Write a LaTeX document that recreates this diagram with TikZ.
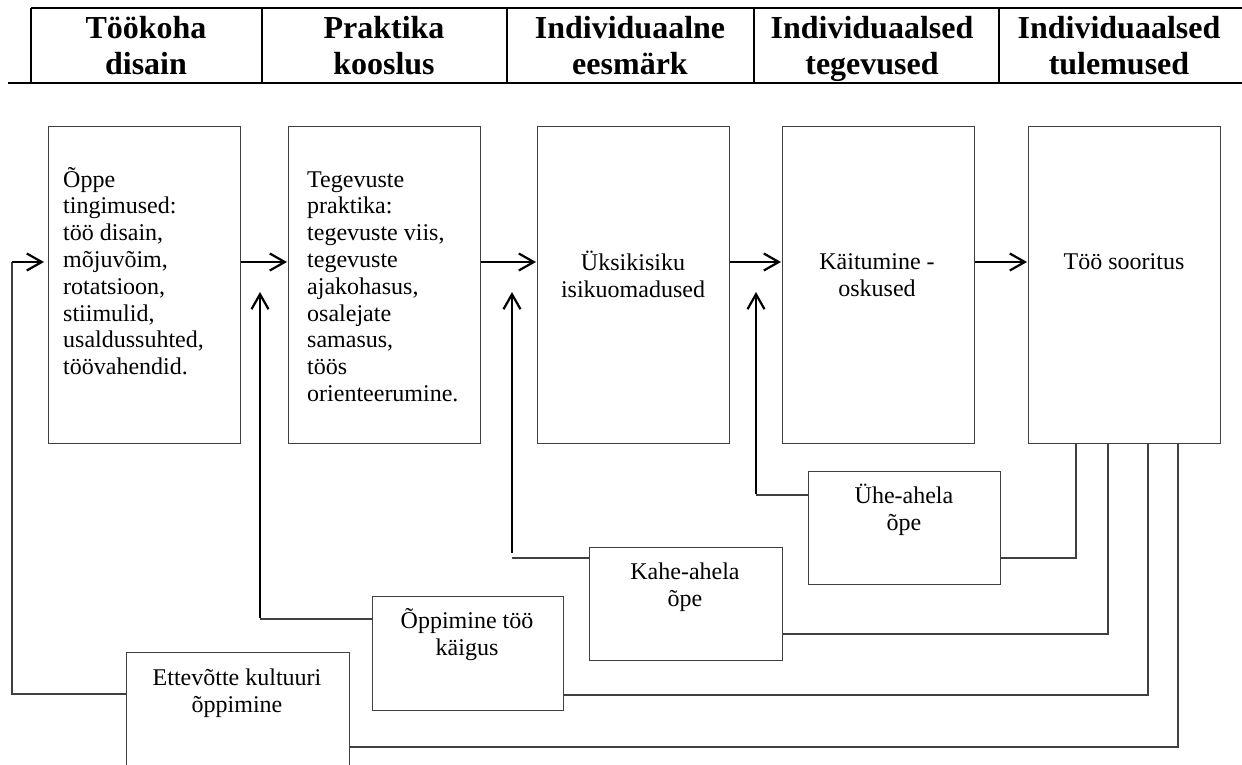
\documentclass[tikz,border=0pt]{standalone}
\usepackage{fontspec}
\setmainfont{Liberation Serif}
\usetikzlibrary{arrows.meta}
\begin{document}
\begin{tikzpicture}[x=1pt,y=-1pt,
  frame/.style={draw=black!75, line width=1.2pt},
  boxnode/.style={frame, anchor=north west, inner sep=0pt},
  bigbox/.style={boxnode, minimum width=192pt, minimum height=317pt},
  smallbox/.style={boxnode, minimum height=113pt},
  body/.style={font=\fontsize{24}{26.8}\selectfont, inner sep=0pt},
  head/.style={font=\bfseries\fontsize{32}{36}\selectfont, align=center, inner sep=0pt, anchor=base},
  flow/.style={line width=2.2pt, -{Straight Barb[length=15pt,width=17pt,line width=2.2pt]}},
  link/.style={draw=black!75, line width=1.2pt},
  rule/.style={draw=black, line width=2.2pt}]
\useasboundingbox (0,0) rectangle (1242,765);
\clip (0,0) rectangle (1242,765);

% header row
\coordinate (htl) at (31,8);
\coordinate (hbl) at (8,83);
\draw[rule] (htl) -- (1242,8);
\draw[rule] (hbl) -- (1242,83);
\draw[rule] (htl) -- (31,83);
\foreach \x in {262,507,754,999} \draw[rule] (\x,8) -- (\x,83);
\node[head] (h1) at (146,75) {Töökoha\\disain};
\node[head] (h2) at (384,75) {Praktika\\kooslus};
\node[head] (h3) at (630,75) {Individuaalne\\eesmärk};
\node[head] (h4) at (872,75) {Individuaalsed\\tegevused};
\node[head] (h5) at (1119,75) {Individuaalsed\\tulemused};

% main chain
\node[bigbox] (b1) at (48,126) {};
\node[bigbox] (b2) at (288,126) {};
\node[bigbox] (b3) at (537,126) {};
\node[bigbox] (b4) at (782,126) {};
\node[bigbox] (b5) at (1028,126) {};

\node[body, align=left, anchor=base west] (b1t) at (63,374.6)
  {Õppe\\tingimused:\\töö disain,\\mõjuvõim,\\rotatsioon,\\stiimulid,\\usaldussuhted,\\töövahendid.};
\node[body, align=left, anchor=base west] (b2t) at (307,401.4)
  {Tegevuste\\praktika:\\tegevuste viis,\\tegevuste\\ajakohasus,\\osalejate\\samasus,\\töös\\orienteerumine.};
\node[body, align=center, anchor=base] (b3t) at (633,297) {Üksikisiku\\isikuomadused};
\node[body, align=center, anchor=base] (b4t) at (877,296) {Käitumine -\\oskused};
\node[body, align=center, anchor=base] (b5t) at (1124,269) {Töö sooritus};

\coordinate (row) at (0,262);
\draw[flow] (b1.east |- row) -- ([xshift=-1pt]b2.west |- row);
\draw[flow] (b2.east |- row) -- ([xshift=-1pt]b3.west |- row);
\draw[flow] (b3.east |- row) -- ([xshift=-1pt]b4.west |- row);
\draw[flow] (b4.east |- row) -- ([xshift=-1pt]b5.west |- row);

% learning loops
\node[smallbox, minimum width=192pt] (uhe) at (808,471) {};
\node[smallbox, minimum width=193pt] (kahe) at (589,547) {};
\node[smallbox, minimum width=191pt, minimum height=114pt] (opp) at (372,596) {};
\node[smallbox, minimum width=223pt, minimum height=150pt] (ett) at (126,652) {};

\node[body, align=center, anchor=base] (uhet) at (904,530) {Ühe-ahela\\õpe};
\node[body, align=center, anchor=base] (kahet) at (685,606) {Kahe-ahela\\õpe};
\node[body, align=center, anchor=base] (oppt) at (467,655) {Õppimine töö\\käigus};
\node[body, align=center, anchor=base] (ettt) at (237,712) {Ettevõtte kultuuri\\õppimine};

% risers into the chain
\coordinate (top) at (0,292);
\coordinate (u0) at (756,495);
\coordinate (k0) at (512,558);
\coordinate (o0) at (260,619);
\draw[link] (uhe.west |- u0) -- (u0);
\draw[link] (kahe.west |- k0) -- (k0);
\draw[link] (opp.west |- o0) -- (o0);
\draw[flow] ([yshift=1pt]u0) -- (u0 |- top);
\draw[flow] ([yshift=5pt]k0) -- (k0 |- top);
\draw[flow] ([yshift=1pt]o0) -- (o0 |- top);

\coordinate (e0) at (12,694);
\coordinate (e1) at (12,262);
\draw[link] (ett.west |- e0) -- (e0) -- (e1);
\draw[flow] (e1) -- ([xshift=-4pt]b1.west |- e1);

% returns from the outcome box
\coordinate (d1) at (1076,558);
\coordinate (d2) at (1108,634);
\coordinate (d3) at (1148,695);
\coordinate (d4) at (1178,747);
\draw[link] (b5.south -| d1) -- (d1) -- (uhe.east |- d1);
\draw[link] (b5.south -| d2) -- (d2) -- (kahe.east |- d2);
\draw[link] (b5.south -| d3) -- (d3) -- (opp.east |- d3);
\draw[link] (b5.south -| d4) -- (d4) -- (ett.east |- d4);
\end{tikzpicture}
\end{document}
